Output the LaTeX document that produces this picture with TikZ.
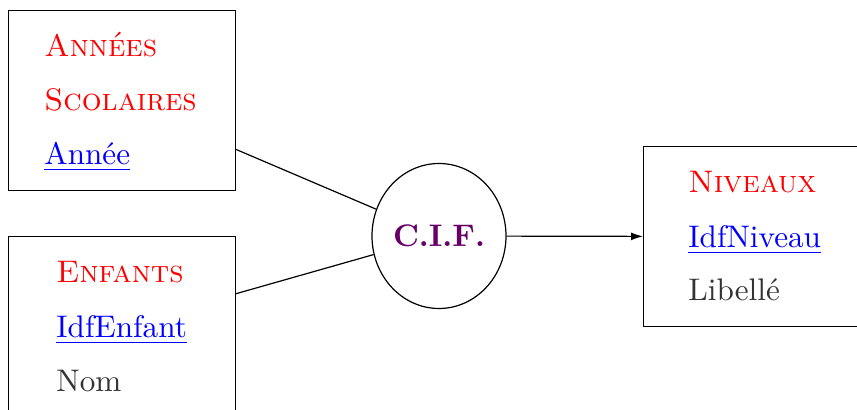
\documentclass[tikz,border=0pt]{standalone}
\usepackage{graphicx}
\usetikzlibrary{shapes.geometric,arrows.meta}
\definecolor{titlered}{RGB}{255,0,0}
\definecolor{keyblue}{RGB}{0,0,255}
\definecolor{attrgray}{RGB}{51,51,51}
\definecolor{cifpurple}{RGB}{102,0,102}
\newcommand\mytxt[1]{\scalebox{1.56}{#1}}
\tikzset{
  entity/.style={draw, line width=0.6pt, rectangle, inner sep=0pt, anchor=north west},
  assoc/.style={draw, line width=0.6pt, ellipse, inner sep=0pt, minimum width=67pt, minimum height=72.5pt,
    font=\fontsize{10}{12}\selectfont\bfseries, text=cifpurple},
  txt/.style={anchor=base west, inner sep=0pt, font=\fontsize{10}{12}\selectfont},
  title/.style={txt, text=titlered},
  keyattr/.style={txt, text=keyblue},
  attr/.style={txt, text=attrgray},
  link/.style={line width=0.6pt},
}
\begin{document}
\begin{tikzpicture}[x=0.5pt, y=-0.5pt]
\useasboundingbox (0,0) rectangle (857,410);
\clip (0,0) rectangle (857,410);
% entities
\node[entity, minimum width=113.5pt, minimum height=90pt] (annees) at (8,10) {};
\node[entity, minimum width=113.5pt, minimum height=100pt] (enfants) at (8,236) {};
\node[entity, minimum width=113.5pt, minimum height=90pt] (niveaux) at (643,146) {};
% texts
\node[title] (t1a) at (44,57) {\mytxt{\textsc{Années}}};
\node[title] (t1b) at (44,111) {\mytxt{\textsc{Scolaires}}};
\node[keyattr] (k1) at (44,165) {\mytxt{\underline{Année}}};
\node[title] (t2) at (56,283) {\mytxt{\textsc{Enfants}}};
\node[keyattr] (k2) at (56,338) {\mytxt{\underline{IdfEnfant}}};
\node[attr] (a2) at (56,392) {\mytxt{Nom}};
\node[title] (t3) at (688,193) {\mytxt{\textsc{Niveaux}}};
\node[keyattr] (k3) at (688,248) {\mytxt{\underline{IdfNiveau}}};
\node[attr] (a3) at (688,301) {\mytxt{Libellé}};
% association
\node[assoc] (cif) at (439,236) {\mytxt{C.I.F.}};
% connectors
\coordinate (c1) at (235,149);
\coordinate (c2) at (235,294);
\draw[link] (c1) -- (cif);
\draw[link] (c2) -- (cif);
\draw[link, -{Latex[length=6pt,width=4pt]}] (cif) -- (niveaux);
\end{tikzpicture}
\end{document}
